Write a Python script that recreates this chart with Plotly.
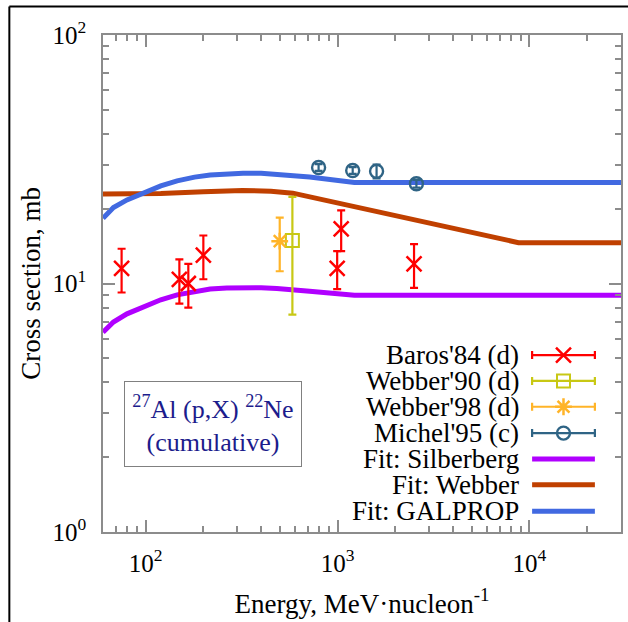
import math
import plotly.graph_objects as go

# ---- measured cross sections, 27Al(p,X)22Ne ----
baros_energy = [75, 150, 167, 200, 996, 1045, 2505]
baros_xsec = [11.5, 10.4, 10.0, 13.0, 11.5, 16.6, 12.0]
baros_err = [2.3, 2.1, 2.0, 2.6, 2.0, 3.1, 2.4]

webber90_energy = [582]
webber90_xsec = [14.9]
webber90_err = [7.4]

webber98_energy = [500]
webber98_xsec = [14.8]
webber98_err = [3.6]

michel_energy = [797, 1200, 1598, 2577]
michel_xsec = [29.3, 28.5, 28.3, 25.2]
michel_err = [0.9, 0.9, 1.8, 0.9]

# ---- fitted cross-section curves ----
silberberg_energy = [60, 68, 80, 98, 120, 146, 180, 217, 265, 322, 400, 483, 590, 716, 1225, 30000]
silberberg_xsec = [6.37, 7.0, 7.55, 8.1, 8.6, 9.0, 9.3, 9.5, 9.6, 9.64, 9.62, 9.55, 9.45, 9.3, 8.96, 8.96]

webber_fit_energy = [60, 120, 200, 320, 450, 585, 8770, 30000]
webber_fit_xsec = [22.9, 23.0, 23.4, 23.7, 23.5, 23.1, 14.6, 14.6]

galprop_energy = [60, 68, 80, 98, 120, 146, 180, 217, 265, 322, 400, 483, 590, 716, 1225, 30000]
galprop_xsec = [18.3, 20.2, 21.7, 23.2, 24.7, 25.9, 26.8, 27.3, 27.65, 27.8, 27.75, 27.5, 27.2, 26.8, 25.5, 25.5]

# ---- axis ticks ----
x_tickvals = [100, 1000, 10000]
x_ticktext = ["10<sup>2</sup>", "10<sup>3</sup>", "10<sup>4</sup>"]
y_tickvals = [1, 10, 100]
y_ticktext = ["10<sup>0</sup>", "10<sup>1</sup>", "10<sup>2</sup>"]

legend_labels = ["Baros'84 (d)", "Webber'90 (d)", "Webber'98 (d)", "Michel'95 (c)",
                 "Fit: Silberberg", "Fit: Webber", "Fit: GALPROP"]

C_BAROS = "#ff0000"
C_W90 = "#c8c814"
C_W98 = "#ffb428"
C_MICHEL = "#2f6485"
C_SIL = "#b000ff"
C_WEB = "#c04000"
C_GAL = "#4169e1"

FONT = "Liberation Serif, Times New Roman, Tinos, DejaVu Serif, serif"
FS_TICK = 25
FS_TEXT = 27

fig = go.Figure()

# fitted curves
for xs, ys, col in [(silberberg_energy, silberberg_xsec, C_SIL),
                    (webber_fit_energy, webber_fit_xsec, C_WEB),
                    (galprop_energy, galprop_xsec, C_GAL)]:
    fig.add_trace(go.Scatter(x=xs, y=ys, mode="lines",
                             line=dict(color=col, width=5), hoverinfo="skip"))


def err_points(xs, ys, errs, col, symbol, size, lw):
    return go.Scatter(
        x=xs, y=ys, mode="markers",
        marker=dict(symbol=symbol, size=size, color=col,
                    line=dict(color=col, width=lw)),
        error_y=dict(type="data", array=errs, visible=True,
                     color=col, thickness=2.2, width=4),
    )


fig.add_trace(err_points(webber90_energy, webber90_xsec, webber90_err, C_W90, "square-open", 13, 2))
fig.add_trace(err_points(webber98_energy, webber98_xsec, webber98_err, C_W98, "asterisk", 14, 2.5))
fig.add_trace(err_points(baros_energy, baros_xsec, baros_err, C_BAROS, "x-thin", 15, 2.5))
fig.add_trace(err_points(michel_energy, michel_xsec, michel_err, C_MICHEL, "circle-open", 13, 2.4))

# ---- key drawn on an overlay axis (0..1 in both directions) ----
key_x = 0.889
key_half = 0.0606
key_rows = [0.356, 0.304, 0.252, 0.199, 0.147, 0.095, 0.042]
key_points = [(C_BAROS, "x-thin", 15, 2.5), (C_W90, "square-open", 13, 2),
              (C_W98, "asterisk", 14, 2.5), (C_MICHEL, "circle-open", 13, 2.4)]
for (col, sym, size, lw), ry in zip(key_points, key_rows[:4]):
    fig.add_trace(go.Scatter(
        x=[key_x], y=[ry], xaxis="x2", yaxis="y2", mode="markers",
        marker=dict(symbol=sym, size=size, color=col, line=dict(color=col, width=lw)),
        error_x=dict(type="constant", value=key_half, visible=True,
                     color=col, thickness=2.2, width=4),
        hoverinfo="skip"))
for col, ry in zip([C_SIL, C_WEB, C_GAL], key_rows[4:]):
    fig.add_trace(go.Scatter(
        x=[key_x - key_half, key_x + key_half], y=[ry, ry], xaxis="x2", yaxis="y2",
        mode="lines", line=dict(color=col, width=5), hoverinfo="skip"))

annotations = []
for label, ry in zip(legend_labels, key_rows):
    annotations.append(dict(x=0.806, y=ry, xref="paper", yref="paper",
                            text=label, showarrow=False, xanchor="right", yanchor="middle",
                            font=dict(family=FONT, size=FS_TEXT, color="black")))

annotations.append(dict(
    x=0.2115, y=0.217, xref="paper", yref="paper", showarrow=False,
    xanchor="center", yanchor="middle",
    text="<sup>27</sup>Al (p,X) <sup>22</sup>Ne<br>(cumulative)",
    font=dict(family=FONT, size=26, color="#1c1c8c"),
    bordercolor="#808080", borderwidth=1, borderpad=3, bgcolor="white",
    width=170, height=78, align="center"))

# outer black frame on left and top edges
shapes = [
    dict(type="line", xref="paper", yref="paper", x0=-0.1808, x1=-0.1808, y0=1.0574, y1=-0.19,
         line=dict(color="black", width=2)),
    dict(type="line", xref="paper", yref="paper", x0=-0.1808, x1=1.02, y0=1.0574, y1=1.0574,
         line=dict(color="black", width=2)),
]

x_minor = [m * 10 ** k for k in range(1, 5) for m in range(2, 10)]
y_minor = [m * 10 ** k for k in range(0, 2) for m in range(2, 10)]

axis_common = dict(
    type="log", showgrid=False, zeroline=False,
    showline=True, linecolor="#8c8c8c", linewidth=1.5, mirror="ticks",
    ticks="inside", ticklen=12, tickwidth=1.5, tickcolor="#8c8c8c",
    tickfont=dict(family=FONT, size=FS_TICK, color="black"),
)

fig.update_layout(
    width=628, height=622,
    margin=dict(l=103, r=5, t=35, b=90),
    paper_bgcolor="white", plot_bgcolor="white",
    showlegend=False,
    font=dict(family=FONT, size=FS_TEXT, color="black"),
    xaxis=dict(**axis_common,
               range=[math.log10(60), math.log10(30000)],
               tickmode="array", tickvals=x_tickvals, ticktext=x_ticktext,
               ticklabelstandoff=8,
               minor=dict(tickmode="array", tickvals=x_minor, ticks="inside",
                          ticklen=6, tickwidth=1.5, tickcolor="#8c8c8c"),
               title=dict(text="Energy, MeV·nucleon<sup>-1</sup>",
                          font=dict(family=FONT, size=FS_TEXT), standoff=18)),
    yaxis=dict(**axis_common,
               range=[0, 2],
               tickmode="array", tickvals=y_tickvals, ticktext=y_ticktext,
               ticklabelstandoff=10,
               minor=dict(tickmode="array", tickvals=y_minor, ticks="inside",
                          ticklen=6, tickwidth=1.5, tickcolor="#8c8c8c"),
               title=dict(text="Cross section, mb",
                          font=dict(family=FONT, size=FS_TEXT), standoff=4)),
    xaxis2=dict(overlaying="x", anchor="y2", range=[0, 1], visible=False, fixedrange=True),
    yaxis2=dict(overlaying="y", anchor="x2", range=[0, 1], visible=False, fixedrange=True),
    annotations=annotations,
    shapes=shapes,
)

fig.write_html("out.html")
